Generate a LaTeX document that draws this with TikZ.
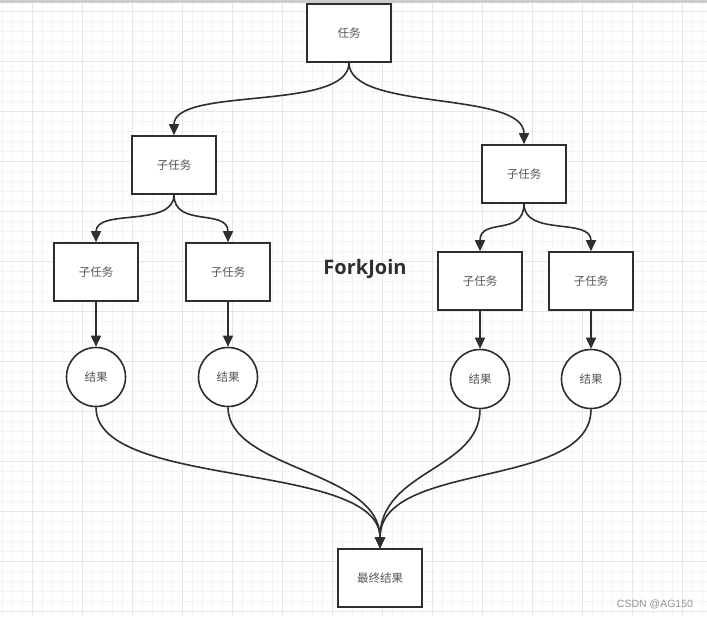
\documentclass[tikz,border=0pt]{standalone}
\usepackage{fontspec}
\setmainfont{Liberation Sans}
\newfontfamily\cjk{Noto Sans CJK SC}
\newfontfamily\ofs{Open Sans}
\usetikzlibrary{arrows.meta}
\definecolor{minorgrid}{HTML}{F4F4F4}
\definecolor{majorgrid}{HTML}{E6E6E6}
\definecolor{ink}{HTML}{2E2E2E}
\definecolor{txt}{HTML}{555555}
\tikzset{
  box/.style={draw=ink, line width=1.6pt, fill=white, minimum width=84pt, minimum height=58pt, inner sep=0pt, font=\cjk\fontsize{11.5}{13}\selectfont, text=txt},
  res/.style={draw=ink, line width=1.6pt, fill=white, circle, minimum size=59pt, inner sep=0pt, font=\cjk\fontsize{11.5}{13}\selectfont, text=txt},
  conn/.style={draw=ink, line width=1.6pt, -{Triangle[length=11pt,width=10pt]}},
}
\begin{document}
\begin{tikzpicture}[x=1pt,y=-1pt]
\useasboundingbox (0,0) rectangle (707,616);
\fill[white] (0,0) rectangle (707,616);
% grid
\foreach \i in {2,12,...,702} \draw[minorgrid, line width=0.8pt] (\i,0) -- (\i,616);
\foreach \j in {1,11,...,611} \draw[minorgrid, line width=0.8pt] (0,\j) -- (707,\j);
\foreach \i in {32,82,...,682} \draw[majorgrid, line width=1pt] (\i,0) -- (\i,616);
\foreach \j in {11,61,...,611} \draw[majorgrid, line width=1pt] (0,\j) -- (707,\j);
\fill[gray!40] (0,0) rectangle (707,2.5);

% nodes
\node[box] (t) at (349,33) {任务};
\node[box] (s1) at (174,165) {子任务};
\node[box] (s2) at (524,174) {子任务};
\node[box] (l1) at (96,272) {子任务};
\node[box] (l2) at (228,272) {子任务};
\node[box] (l3) at (480,281) {子任务};
\node[box] (l4) at (591,281) {子任务};
\node[res] (r1) at (96,377) {结果};
\node[res] (r2) at (228,377) {结果};
\node[res] (r3) at (480,379) {结果};
\node[res] (r4) at (591,379) {结果};
\node[box] (f) at (380,578) {最终结果};
\node[font=\ofs\bfseries\fontsize{20}{24}\selectfont, text=ink] (title) at (365,269) {ForkJoin};
\node[font=\fontsize{10.5}{12}\selectfont, text=gray!85] (wm) at (655,604) {CSDN @AG150};

% connectors
\draw[conn] (t.south) .. controls (349,112) and (174,86) .. (s1.north);
\draw[conn] (t.south) .. controls (349,112) and (524,90) .. (s2.north);
\draw[conn] (s1.south) .. controls (174,228) and (96,208) .. (l1.north);
\draw[conn] (s1.south) .. controls (174,228) and (228,208) .. (l2.north);
\draw[conn] (s2.south) .. controls (524,237) and (480,217) .. (l3.north);
\draw[conn] (s2.south) .. controls (524,237) and (591,217) .. (l4.north);
\draw[conn] (l1.south) -- (r1.north);
\draw[conn] (l2.south) -- (r2.north);
\draw[conn] (l3.south) -- (r3.north);
\draw[conn] (l4.south) -- (r4.north);
\draw[conn] (r1.south) .. controls (96,490) and (380,460) .. (f.north);
\draw[conn] (r2.south) .. controls (228,470) and (380,470) .. (f.north);
\draw[conn] (r3.south) .. controls (480,470) and (380,470) .. (f.north);
\draw[conn] (r4.south) .. controls (591,490) and (380,460) .. (f.north);
\end{tikzpicture}
\end{document}
